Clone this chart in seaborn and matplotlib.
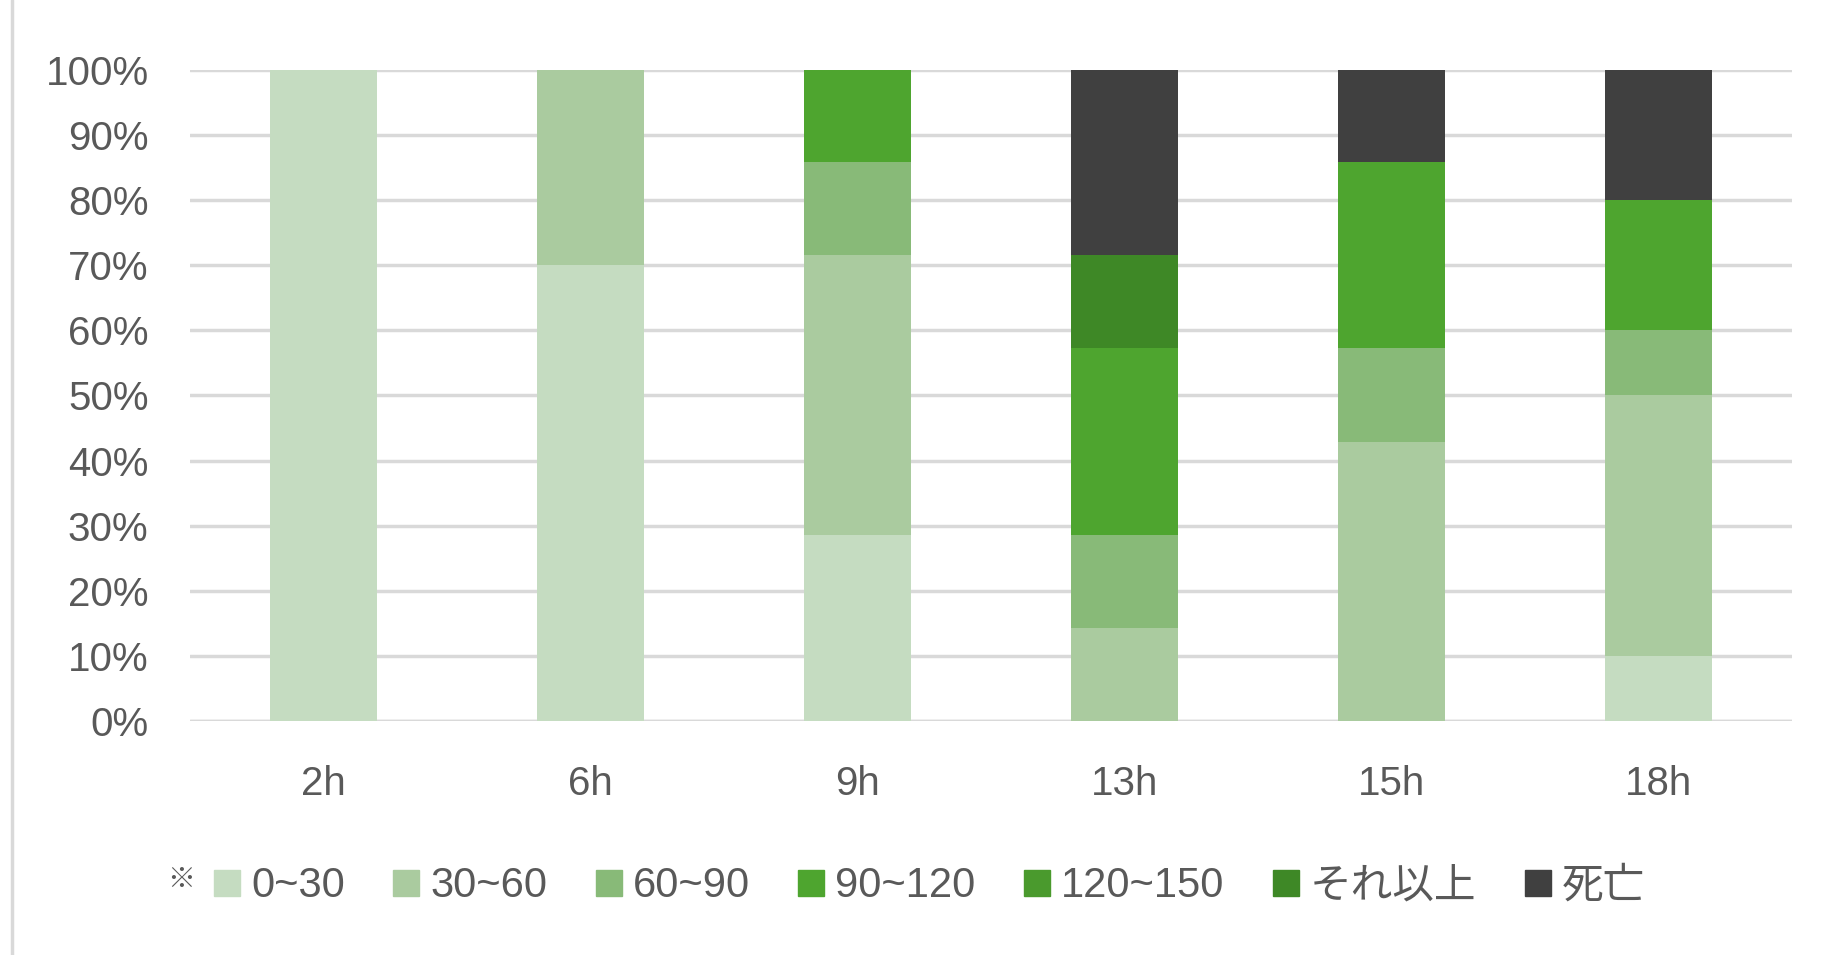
import matplotlib
matplotlib.use("Agg")
import matplotlib.pyplot as plt
from matplotlib.lines import Line2D
import numpy as np
import pandas as pd
import seaborn as sns

sns.set_theme(style="white")
plt.rcParams["font.family"] = ["Liberation Sans", "Noto Sans CJK JP", "DejaVu Sans"]

# Time points and size classes
times = ["2h", "6h", "9h", "13h", "15h", "18h"]
classes = ["0~30", "30~60", "60~90", "90~120", "120~150", "それ以上", "死亡"]
colors = ["#C5DCC1", "#AACB9F", "#88BA78", "#4EA52F", "#4A9A2D", "#3E8826", "#404040"]

# Share of each class per time point (%)
c_0_30 = [100, 70, 28.6, 0, 0, 10]
c_30_60 = [0, 30, 42.9, 14.3, 42.9, 40]
c_60_90 = [0, 0, 14.3, 14.3, 14.3, 10]
c_90_120 = [0, 0, 14.3, 28.6, 28.6, 20]
c_120_150 = [0, 0, 0, 0, 0, 0]
c_over = [0, 0, 0, 14.3, 0, 0]
c_dead = [0, 0, 0, 28.6, 14.3, 20]

series = [c_0_30, c_30_60, c_60_90, c_90_120, c_120_150, c_over, c_dead]

text_color = "#595959"
grid_color = "#D9D9D9"
fs = 29

fig = plt.figure(figsize=(18.29, 9.55), dpi=100)
ax = fig.add_axes([0.104, 0.245, 0.876, 0.682])

bottom = np.zeros(len(times))
for name, vals, col in zip(classes, series, colors):
    df = pd.DataFrame({"time": times, "pct": vals})
    sns.barplot(data=df, x="time", y="pct", color=col, width=0.4,
                bottom=bottom.copy(), ax=ax, zorder=3, linewidth=0,
                saturation=1, errorbar=None)
    bottom += np.array(vals)

ax.set_ylim(0, 100)
ax.set_xlim(-0.5, len(times) - 0.5)
ax.set_yticks(np.arange(0, 101, 10))
ax.set_yticklabels([f"{v}%" for v in range(0, 101, 10)])
ax.set_xlabel("")
ax.set_ylabel("")
ax.yaxis.grid(True, color=grid_color, linewidth=2.5, zorder=0)
ax.set_axisbelow(True)
for s in ax.spines.values():
    s.set_visible(False)
ax.tick_params(axis="y", length=0, pad=30, labelsize=fs, labelcolor=text_color)
ax.tick_params(axis="x", length=0, pad=32, labelsize=fs, labelcolor=text_color)
# bottom baseline
ax.axhline(0, color=grid_color, linewidth=2.5, zorder=1)

# Legend with square swatches
handles = [Line2D([0], [0], marker="s", linestyle="none", markersize=18.5,
                  markerfacecolor=c, markeredgecolor=c) for c in colors]
leg = fig.legend(handles, classes, loc="center", ncol=7,
                 bbox_to_anchor=(0.508, 0.072), frameon=False,
                 fontsize=30, handlelength=0.65, handletextpad=0.25,
                 columnspacing=1.15, labelcolor=text_color)
fig.text(0.099, 0.077, "※", fontsize=20, color=text_color,
         ha="center", va="center")

# chart frame left edge
fig.add_artist(Line2D([0.0066, 0.0066], [0.0, 1.0], color=grid_color,
                      linewidth=2.5, transform=fig.transFigure))

fig.savefig("out.png", dpi=100)
